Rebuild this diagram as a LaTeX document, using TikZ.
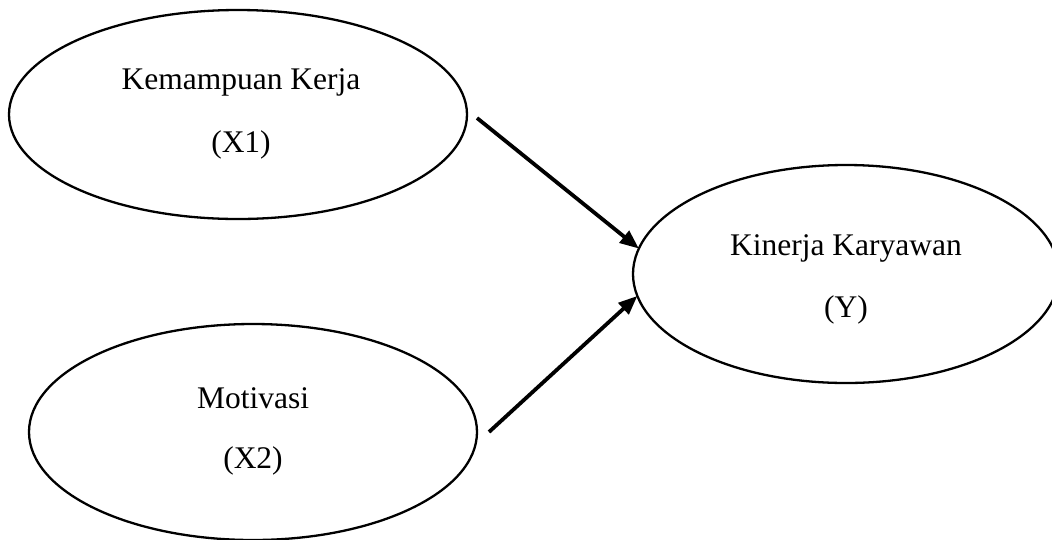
\documentclass[tikz,border=0pt]{standalone}
\usepackage{fontspec}
\setmainfont{Liberation Serif}
\usetikzlibrary{shapes.geometric,arrows.meta}
\tikzset{
  oval/.style={draw=black, line width=2.3pt, ellipse, inner sep=0pt, outer sep=0pt},
  lbl/.style={anchor=base, inner sep=0pt, font=\fontsize{31.5}{38}\selectfont},
  link/.style={line width=3.8pt, -{Triangle[length=19pt,width=15pt]}}
}
\begin{document}
\begin{tikzpicture}[x=1pt,y=-1pt]
\useasboundingbox (0,0) rectangle (1052,539);
\path[clip] (0,0) rectangle (1052,539);
\node[oval, minimum width=458pt, minimum height=209pt] (x1) at (238,114.5) {};
\node[oval, minimum width=448pt, minimum height=216pt] (x2) at (253,432) {};
\node[oval, minimum width=426pt, minimum height=218pt] (y) at (846,274) {};
\node[lbl] (x1a) at (241,89) {Kemampuan Kerja};
\node[lbl] (x1b) at (241,152) {(X1)};
\node[lbl] (x2a) at (253,408) {Motivasi};
\node[lbl] (x2b) at (253,468) {(X2)};
\node[lbl] (ya) at (846,255) {Kinerja Karyawan};
\node[lbl] (yb) at (846,317) {(Y)};
\coordinate (s1) at (477,118);
\coordinate (s2) at (489,432);
\draw[link] (s1) -- (y.173);
\draw[link] (s2) -- (y.186);
\end{tikzpicture}
\end{document}
